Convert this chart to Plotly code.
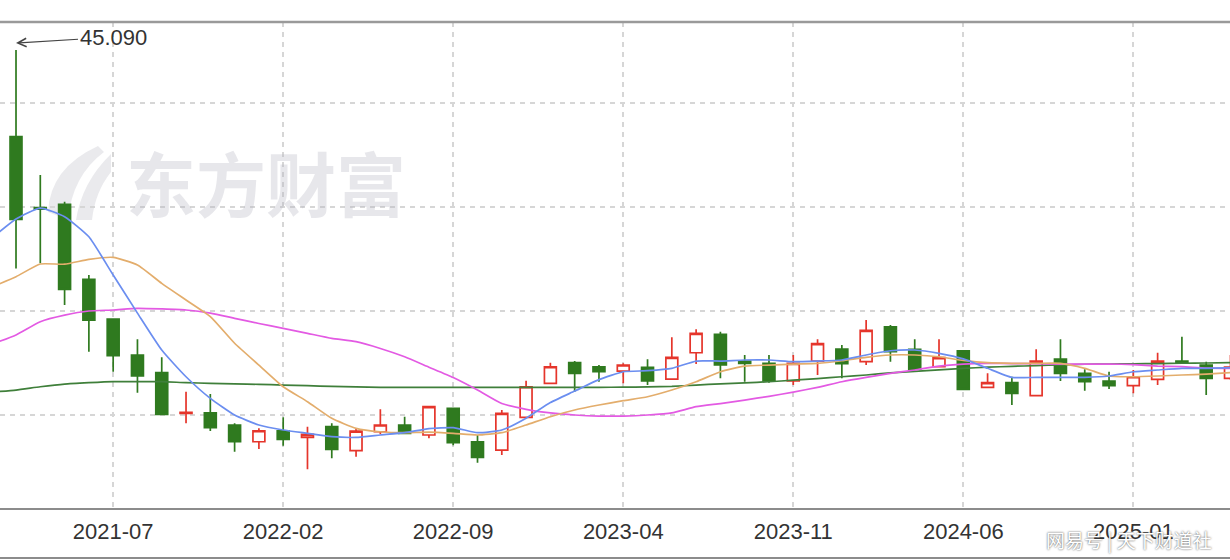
import plotly.graph_objects as go

# ---------------- data ----------------
months = [
    "2021-02", "2021-03", "2021-04", "2021-05", "2021-06", "2021-07", "2021-08", "2021-09",
    "2021-10", "2021-11", "2021-12", "2022-01", "2022-02", "2022-03", "2022-04", "2022-05",
    "2022-06", "2022-07", "2022-08", "2022-09", "2022-10", "2022-11", "2022-12", "2023-01",
    "2023-02", "2023-03", "2023-04", "2023-05", "2023-06", "2023-07", "2023-08", "2023-09",
    "2023-10", "2023-11", "2023-12", "2024-01", "2024-02", "2024-03", "2024-04", "2024-05",
    "2024-06", "2024-07", "2024-08", "2024-09", "2024-10", "2024-11", "2024-12", "2025-01",
    "2025-02", "2025-03", "2025-04", "2025-05",
]

opens = [27.10, 36.76, 29.95, 30.26, 23.05, 19.23, 15.77, 14.07,
         10.15, 10.22, 9.04, 7.43, 8.49, 7.86, 8.88, 6.57,
         8.39, 9.04, 8.08, 10.64, 7.43, 6.63, 9.78, 13.05,
         15.03, 14.64, 14.23, 14.59, 13.46, 15.99, 17.76, 15.19,
         14.97, 13.27, 15.19, 16.35, 15.13, 18.49, 16.32, 14.64,
         16.18, 12.66, 13.11, 11.86, 15.38, 14.01, 13.27, 12.82,
         13.43, 15.19, 14.81, 13.53]

highs = [38.00, 45.09, 33.08, 30.50, 23.46, 19.30, 17.28, 15.55,
         12.24, 12.02, 9.20, 8.72, 9.78, 8.88, 9.20, 8.72,
         10.55, 9.84, 10.87, 10.70, 8.08, 10.48, 13.30, 15.03,
         15.19, 14.81, 14.97, 15.36, 17.47, 18.24, 18.01, 15.77,
         15.77, 15.77, 17.28, 16.73, 19.13, 18.65, 17.28, 17.28,
         16.25, 14.01, 13.68, 16.32, 17.28, 14.40, 14.16, 14.33,
         15.99, 17.53, 15.13, 15.77]

lows = [25.50, 24.10, 24.59, 20.58, 16.09, 14.16, 12.14, 10.00,
        9.20, 8.46, 6.47, 6.73, 7.05, 4.78, 5.84, 5.99,
        8.14, 8.20, 7.76, 7.10, 5.41, 6.15, 9.70, 13.00,
        12.24, 13.21, 13.05, 12.88, 13.40, 14.90, 13.53, 13.21,
        13.10, 12.88, 13.85, 13.53, 14.81, 15.13, 14.30, 14.60,
        12.40, 12.57, 10.96, 11.80, 13.27, 12.34, 12.50, 12.09,
        12.88, 14.97, 11.92, 13.40]

closes = [36.40, 28.82, 29.80, 22.09, 19.13, 15.70, 13.75, 10.07,
          10.25, 8.78, 7.43, 8.49, 7.66, 8.14, 6.70, 8.46,
          9.04, 8.24, 10.80, 7.34, 5.93, 10.16, 12.72, 14.64,
          14.01, 14.16, 14.81, 13.27, 15.55, 17.86, 14.81, 14.97,
          13.27, 14.97, 16.86, 14.93, 18.14, 16.09, 14.40, 15.51,
          12.47, 13.11, 12.09, 15.19, 14.01, 13.21, 12.82, 13.68,
          15.19, 15.03, 13.53, 14.60]

ma5 = [27.00, 28.85, 29.90, 29.07, 27.14, 23.46, 19.80, 16.25,
       13.68, 11.60, 10.00, 9.04, 8.56, 8.24, 7.92, 7.85,
       8.08, 8.30, 8.70, 8.79, 8.30, 8.56, 9.70, 11.20,
       12.30, 13.40, 14.16, 14.26, 14.49, 15.19, 15.19, 15.29,
       15.29, 15.13, 15.19, 15.29, 15.77, 16.18, 16.25, 15.93,
       15.40, 14.49, 13.62, 13.62, 13.62, 13.62, 13.75, 14.16,
       14.33, 14.49, 14.49, 14.55]

ma10 = [22.30, 23.30, 24.52, 24.50, 24.97, 25.16, 24.42, 22.66,
        21.06, 19.46, 16.90, 14.80, 12.72, 11.28, 9.68, 8.72,
        8.39, 8.30, 8.35, 8.24, 8.08, 8.30, 9.04, 9.84,
        10.48, 10.96, 11.38, 11.76, 12.40, 13.20, 14.16, 14.71,
        14.80, 14.90, 14.97, 15.22, 15.55, 15.77, 15.77, 15.60,
        15.25, 15.03, 14.97, 14.97, 14.97, 14.49, 13.75, 13.68,
        13.75, 13.85, 13.94, 14.07]

ma20 = [16.80, 17.70, 18.97, 19.60, 20.00, 20.10, 20.26, 20.20,
        20.10, 19.80, 19.30, 18.80, 18.33, 17.85, 17.37, 17.05,
        16.40, 15.60, 14.60, 13.60, 12.40, 11.10, 10.55, 10.20,
        10.00, 9.90, 9.90, 10.00, 10.20, 10.80, 11.10, 11.44,
        11.80, 12.20, 12.66, 13.20, 13.62, 14.00, 14.33, 14.71,
        14.90, 14.97, 14.95, 14.93, 14.90, 14.90, 14.90, 14.85,
        14.71, 14.65, 14.50, 14.49]

ma60 = [12.20, 12.40, 12.72, 12.98, 13.11, 13.21, 13.21, 13.21,
        13.11, 13.05, 13.00, 12.95, 12.88, 12.82, 12.75, 12.70,
        12.66, 12.66, 12.66, 12.66, 12.66, 12.66, 12.66, 12.66,
        12.66, 12.66, 12.68, 12.70, 12.75, 12.88, 13.00, 13.10,
        13.20, 13.35, 13.50, 13.68, 13.85, 14.05, 14.20, 14.35,
        14.49, 14.60, 14.68, 14.75, 14.82, 14.88, 14.90, 14.92,
        14.95, 14.98, 15.00, 15.03]

tick_months = ["2021-07", "2022-02", "2022-09", "2023-04", "2023-11", "2024-06", "2025-01"]
y_grid = [10, 20, 30, 40]
peak_month = "2021-03"
peak_label = "45.090"
watermark = "东方财富"
source_note = "网易号 | 天下财道社"

# ---------------- styling ----------------
RED = "#e5352b"
GREEN = "#2f7a1f"
GRID = "#d6d6d6"
W, H = 1230, 560
M_T, M_B = 22, 52
PLOT_H = H - M_T - M_B

fig = go.Figure()

fig.add_trace(go.Candlestick(
    x=months, open=opens, high=highs, low=lows, close=closes,
    increasing=dict(line=dict(color=RED, width=1.7), fillcolor="white"),
    decreasing=dict(line=dict(color=GREEN, width=1.7), fillcolor=GREEN),
    whiskerwidth=0, showlegend=False, hoverinfo="skip",
))

for vals, col in [(ma60, "#3f7f3a"), (ma20, "#e35ae3"), (ma10, "#e3ad6c"), (ma5, "#6b8ef0")]:
    fig.add_trace(go.Scatter(
        x=months, y=vals, mode="lines",
        line=dict(color=col, width=1.7, shape="spline", smoothing=0.5),
        showlegend=False, hoverinfo="skip",
    ))


def px_path(points):
    """Convert pixel points (decorative logo) to a paper-coordinate SVG path."""
    out = []
    for cmd, pts in points:
        coords = " ".join(f"{x / W:.5f},{(H - M_B - y) / PLOT_H:.5f}" for x, y in pts)
        out.append(f"{cmd} {coords}")
    return " ".join(out) + " Z"


logo_color = "rgba(180,180,192,0.28)"
bottom_y = (H - M_B - 558) / PLOT_H
shapes = [
    dict(type="line", xref="paper", yref="paper", x0=0, x1=1, y0=1, y1=1,
         line=dict(color="#9a9a9a", width=2.5)),
    dict(type="line", xref="paper", yref="paper", x0=0, x1=1, y0=bottom_y, y1=bottom_y,
         line=dict(color="#8c8c8c", width=2)),
    # watermark logo (decorative swooshes)
    dict(type="path", xref="paper", yref="paper", layer="below", line=dict(width=0),
         fillcolor=logo_color,
         path=px_path([("M", [(48, 212)]), ("Q", [(50, 168), (98, 146)]),
                       ("L", [(104, 152)]), ("Q", [(72, 176), (68, 220)])])),
    dict(type="path", xref="paper", yref="paper", layer="below", line=dict(width=0),
         fillcolor=logo_color,
         path=px_path([("M", [(76, 220)]), ("Q", [(82, 182), (111, 154)]),
                       ("L", [(111, 172)]), ("Q", [(95, 192), (92, 220)])])),
]

annotations = [
    dict(x=peak_month, y=highs[months.index(peak_month)], xref="x", yref="y",
         text=peak_label, showarrow=True, arrowhead=5, arrowsize=1.4, arrowwidth=1.2,
         arrowcolor="#444444", ax=97, ay=-6, yshift=7, standoff=0,
         font=dict(size=22, color="#333333", family="Liberation Sans, Arial, sans-serif")),
    dict(xref="paper", yref="paper", x=266 / W, y=(H - M_B - 182) / PLOT_H,
         xanchor="center", yanchor="middle",
         text=watermark, showarrow=False,
         font=dict(size=70, color="rgba(180,180,192,0.32)", family="Noto Sans CJK SC",
                   weight="bold")),
    dict(xref="paper", yref="paper", x=1129 / W, y=(H - M_B - 540) / PLOT_H,
         xanchor="center", yanchor="middle",
         text=source_note, showarrow=False,
         font=dict(size=19, color="#ffffff", family="Noto Sans CJK SC",
                   shadow="0px 0px 2px #3a3a3a")),
]

axis_font = dict(size=22, color="#333333", family="Liberation Sans, Arial, sans-serif")

fig.update_layout(
    width=W, height=H,
    margin=dict(l=0, r=0, t=M_T, b=M_B),
    plot_bgcolor="white", paper_bgcolor="white",
    showlegend=False,
    shapes=shapes, annotations=annotations,
    xaxis=dict(
        type="category", categoryorder="array", categoryarray=months,
        range=[0.341, 50.98], rangeslider=dict(visible=False),
        tickvals=tick_months, ticktext=tick_months,
        showgrid=True, gridcolor=GRID, gridwidth=1.5, griddash="5px,5px",
        showline=True, linecolor="#8c8c8c", linewidth=2,
        ticks="outside", ticklen=3, tickcolor="rgba(0,0,0,0)",
        tickfont=axis_font, zeroline=False, fixedrange=True,
    ),
    yaxis=dict(
        range=[1.06, 47.79], tickvals=y_grid, showticklabels=False,
        showgrid=True, gridcolor=GRID, gridwidth=1.5, griddash="5px,5px",
        zeroline=False, showline=False, fixedrange=True,
    ),
)

fig.write_html(
    "out.html",
    config={"displayModeBar": False},
    post_script="document.body.style.margin='0';document.body.style.overflow='hidden';",
)
